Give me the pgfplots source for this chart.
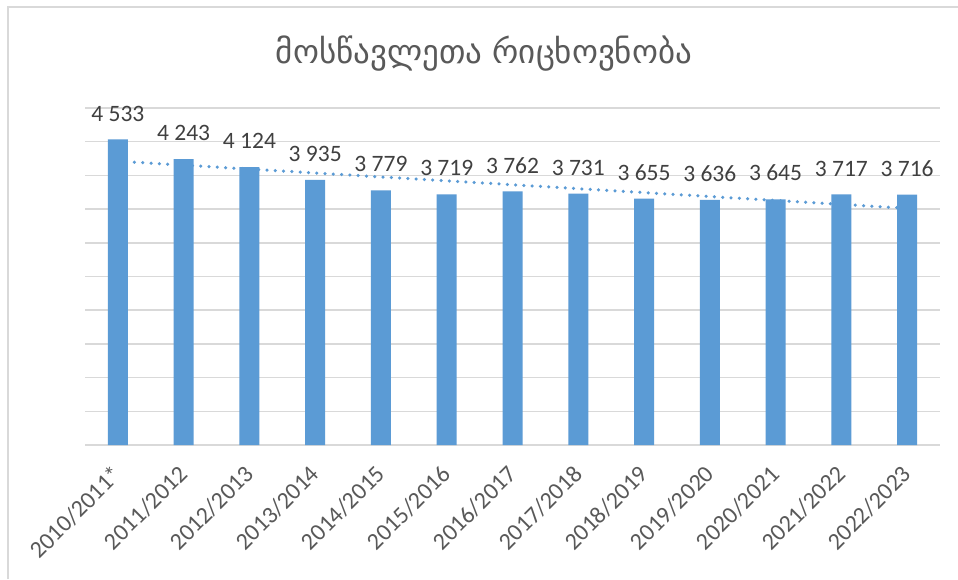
\documentclass[border=0pt]{standalone}
\usepackage{pgfplots}
\pgfplotsset{compat=1.18}
\usepackage{fontspec}
\setmainfont{Carlito}
\newfontfamily\geo{DejaVu Sans}
\definecolor{barblue}{HTML}{5B9BD5}
\definecolor{gridgray}{HTML}{D9D9D9}
\definecolor{txtgray}{HTML}{595959}
\definecolor{lblgray}{HTML}{404040}
\begin{document}
\begin{tikzpicture}
\path[use as bounding box] (0,0) rectangle (958pt,579pt);
\fill[white] (0,0) rectangle (958pt,579pt);
\draw[gridgray, line width=2pt] (8pt,0) -- (8pt,572pt) -- (958pt,572pt);
\node[txtgray, font=\geo\fontsize{33}{36}\selectfont] at (484pt,525pt) {მოსწავლეთა რიცხოვნობა};
\begin{axis}[
  at={(85pt,134pt)}, anchor=south west,
  scale only axis, width=855pt, height=337pt,
  xmin=-0.5, xmax=12.5, ymin=0, ymax=5000,
  axis line style={draw=none},
  tick style={draw=none},
  major tick length=0pt,
  ytick={0,500,...,5000},
  yticklabels={},
  ymajorgrids,
  grid style={gridgray, line width=1.5pt},
  xtick={0,1,...,12},
  xticklabels={2010/2011*,2011/2012,2012/2013,2013/2014,2014/2015,2015/2016,2016/2017,2017/2018,2018/2019,2019/2020,2020/2021,2021/2022,2022/2023},
  xticklabel style={anchor=east, rotate=45, inner sep=0pt, font=\fontsize{24}{27}\selectfont, text=txtgray},
  xticklabel shift=25pt,
  clip=false,
]
\addplot[sharp plot, barblue, line width=3.5pt, line cap=round, dash pattern=on 0pt off 8.3pt] coordinates {(0,4210) (12,3512)};
\addplot[ybar, bar width=20pt, fill=barblue, draw=none,
  nodes near coords,
  every node near coord/.style={anchor=south, inner sep=0pt, yshift=18pt, font=\fontsize{23.5}{26}\selectfont, text=lblgray, /pgf/number format/1000 sep={\ }, /pgf/number format/assume math mode=true}]
  coordinates {(0,4533) (1,4243) (2,4124) (3,3935) (4,3779) (5,3719) (6,3762) (7,3731) (8,3655) (9,3636) (10,3645) (11,3717) (12,3716)};
\end{axis}
\end{tikzpicture}
\end{document}
